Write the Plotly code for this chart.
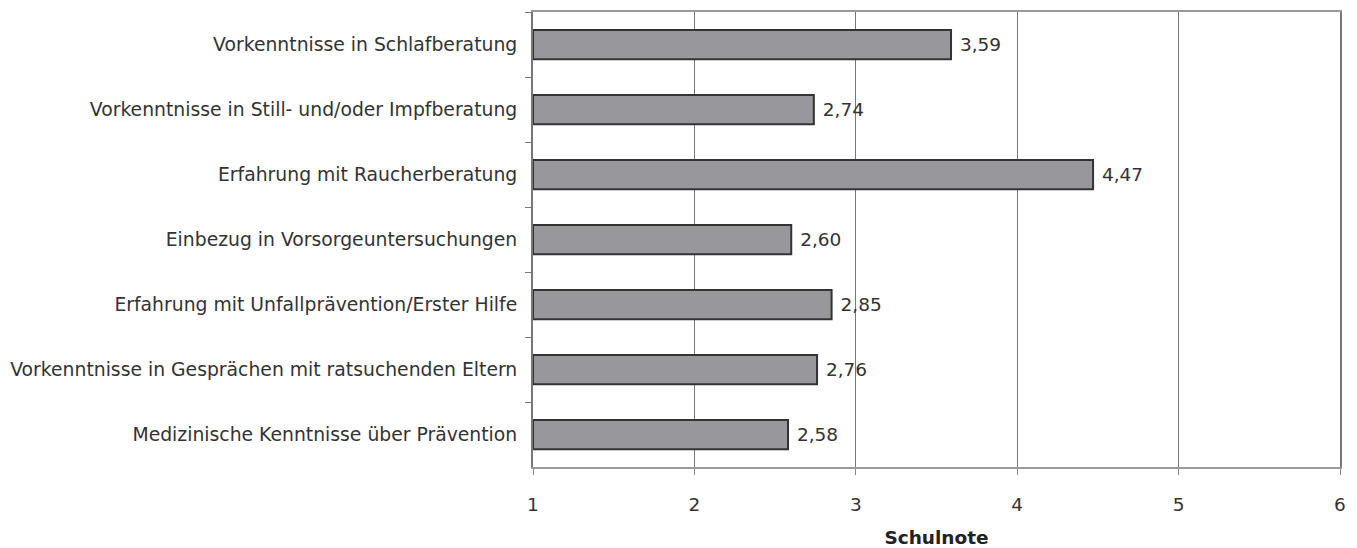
import plotly.graph_objects as go

categories = [
    "Vorkenntnisse in Schlafberatung",
    "Vorkenntnisse in Still- und/oder Impfberatung",
    "Erfahrung mit Raucherberatung",
    "Einbezug in Vorsorgeuntersuchungen",
    "Erfahrung mit Unfallprävention/Erster Hilfe",
    "Vorkenntnisse in Gesprächen mit ratsuchenden Eltern",
    "Medizinische Kenntnisse über Prävention",
]
values = [3.59, 2.74, 4.47, 2.60, 2.85, 2.76, 2.58]
axis_min = 1
x_ticks = [1, 2, 3, 4, 5, 6]

labels = ["\u00a0" + f"{v:.2f}".replace(".", ",") for v in values]

FONT = "DejaVu Sans, Verdana, sans-serif"

fig = go.Figure(go.Bar(
    y=categories,
    x=[v - axis_min for v in values],
    base=axis_min,
    orientation="h",
    width=0.45,
    marker=dict(color="#98989c", line=dict(color="#333333", width=2)),
    text=labels,
    textposition="outside",
    textfont=dict(size=18.5, color="#333333", family=FONT),
    cliponaxis=False,
))

fig.update_layout(
    width=1357, height=548,
    margin=dict(l=533, r=17, t=12, b=81, autoexpand=False),
    paper_bgcolor="white", plot_bgcolor="white",
    font=dict(family=FONT, size=18.5, color="#333333"),
    showlegend=False,
    bargap=0.55,
    xaxis=dict(
        range=[1, 6], tickvals=x_ticks, ticktext=[str(t) for t in x_ticks],
        showgrid=True, gridcolor="#777777", gridwidth=1,
        showline=True, linecolor="#999999", linewidth=2, mirror=True,
        ticks="outside", ticklen=6, tickcolor="#888888",
        ticklabelstandoff=14,
        tickfont=dict(size=18.5, color="#333333", family=FONT),
        title=dict(text="<b>Schulnote</b>", font=dict(size=18.5, color="#222222", family=FONT), standoff=22),
        zeroline=False, automargin=False,
    ),
    yaxis=dict(
        autorange="reversed",
        showline=True, linecolor="#777777", linewidth=2, mirror=True,
        ticks="outside", ticklen=6, tickcolor="#777777", tickson="boundaries",
        ticklabelstandoff=10,
        tickfont=dict(size=18.8, color="#333333", family=FONT),
        showgrid=False, automargin=False,
    ),
)

fig.write_html("out.html")
